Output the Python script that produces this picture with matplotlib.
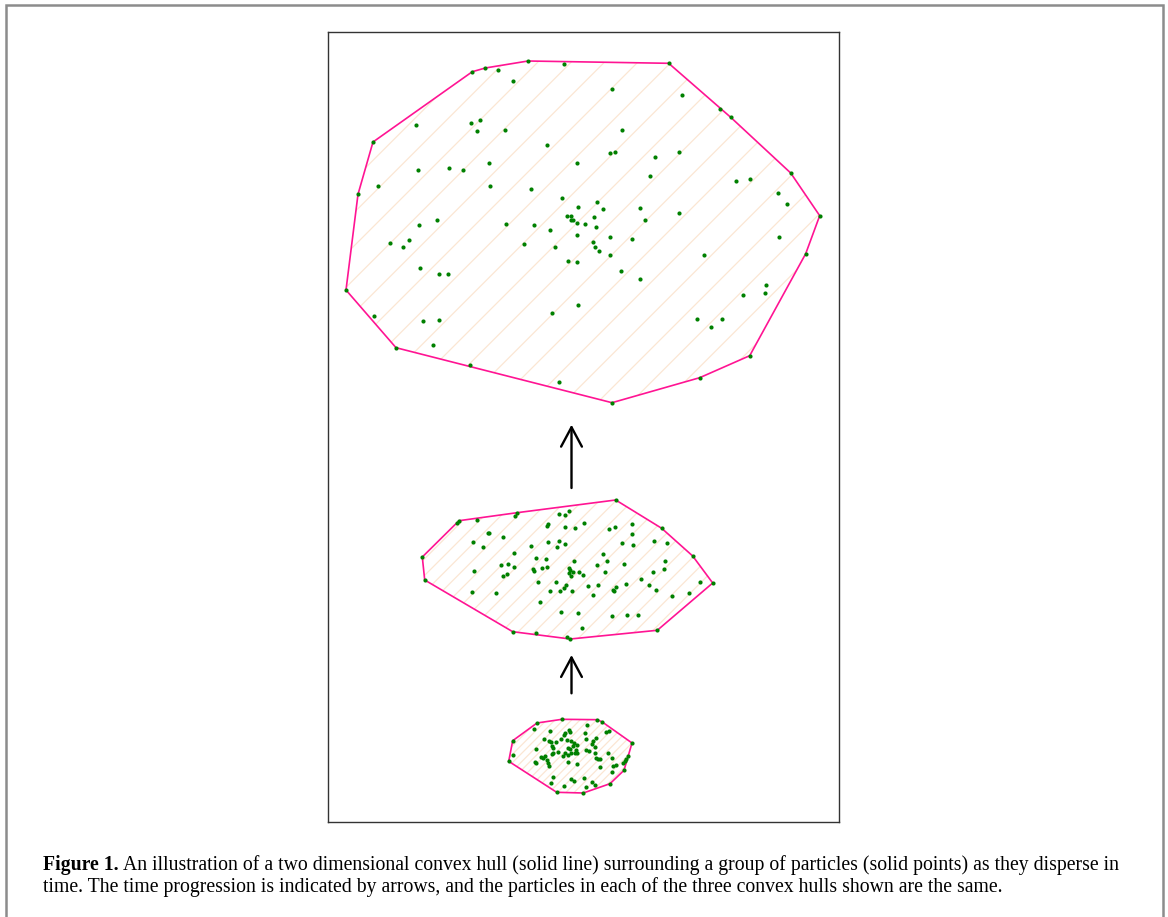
import matplotlib.pyplot as plt
from matplotlib.patches import Polygon, Rectangle

# particle positions for the three snapshots (x right, y down; same units as the axes)
big_x = [528, 564, 472.3, 485.3, 498, 512.7, 373, 416, 470.7, 480, 476.7, 505.3, 546.7,
         358, 378.3, 418.3, 448.7, 462.7, 489, 490, 531, 577, 562, 578.3, 566.7, 570.7,
         570.7, 573.3, 576.7, 585.3, 419.3, 436.7, 506, 533.7, 549.7, 576.7, 408.7,
         668.7, 612, 681.7, 719.7, 730.7, 790.7, 819.7, 622, 610, 615, 654.7, 679.3,
         649.7, 735.7, 750, 777.7, 787, 597, 602.7, 640.3, 678.7, 594, 596, 645, 610,
         632, 778.7, 390, 402.7, 524.3, 554.7, 568.3, 577.3, 420.3, 439, 448.3, 346,
         374, 422.7, 439.3, 552, 577.7, 396, 433, 470, 558.7, 592.7, 594.7, 598.7, 610,
         620.7, 639.7, 704.3, 805.7, 765.7, 765, 743, 696.7, 721.7, 711, 749.7, 699.7, 612]
big_y = [61, 63.7, 71.7, 68, 70.3, 80.7, 142, 124.7, 123.3, 120, 131.3, 130, 144.7,
         194.3, 186, 170.3, 168.3, 170.3, 163, 186.3, 188.7, 163.3, 198, 207, 216.3, 215.7,
         219.7, 219.7, 223, 224.3, 224.7, 219.7, 223.7, 225.3, 230.3, 235.3, 240,
         63.3, 89.3, 94.7, 109, 117.3, 173, 215.7, 130, 152.7, 151.7, 156.7, 151.7,
         176.3, 180.7, 179.3, 192.7, 203.7, 202, 209, 207.7, 212.7, 216.7, 227.3, 219.7, 237,
         239, 237, 243.3, 246.7, 243.7, 247.3, 260.7, 261.7, 267.7, 273.7, 273.7, 290,
         315.7, 321.3, 320, 313, 305, 347.7, 345, 365, 382, 242, 247.3, 250.7, 254.7,
         271, 279, 255, 253.7, 285, 292.7, 295.3, 319.3, 318.7, 326.7, 355.7, 377.7, 402.7]

mid_x = [615.7, 459, 456.7, 477, 517, 515.3, 559.3, 565.3, 568.7, 547.7, 546.7, 565, 575,
         583.7, 608.7, 614.7, 632, 632.3, 661.7, 488.3, 489.3, 502.7, 472.7, 483.3, 530.7,
         547.7, 558.7, 565.3, 556.7, 621.7, 633.3, 654.3, 667.3, 692.7, 422.3, 513.7, 535.7,
         545.7, 603.3, 607, 574, 501, 507.7, 513.7, 533, 534, 542, 546.7, 569.3, 570.3,
         573.3, 569.3, 571.3, 579, 583, 596.7, 605.3, 624.3, 665.3, 664, 653.3, 474.3,
         502.7, 507.3, 424.7, 537.7, 555.7, 566, 564, 560.3, 549.7, 572, 588.3, 598, 592.7,
         613, 614.3, 615.7, 626, 641, 649, 655.7, 672.3, 689, 699.7, 712.7, 471.7, 495.7,
         540, 561.3, 578.3, 612.3, 626.7, 637.7, 582, 512.7, 536, 567, 570.3, 657.3]
mid_y = [500, 520.7, 523.3, 519.7, 512.7, 516, 513.7, 514.7, 511, 523.7, 526.3, 526.7, 527.7,
         522.7, 528.7, 527, 524, 533.7, 528.3, 532.7, 533.3, 537.3, 541.7, 547, 545.7,
         542.3, 540.7, 544.3, 547.3, 543.3, 545, 540.7, 542.7, 556, 557, 553.3, 557.7,
         559, 554.3, 560.7, 561.3, 564.7, 564.3, 567, 569.3, 570.7, 568.3, 567, 567.7, 570,
         571.7, 573.3, 575.7, 571.7, 575, 565, 571.7, 563.7, 560.7, 569, 571.7, 571.3,
         575.7, 574, 580, 581.7, 582.3, 585, 588.3, 591.3, 591, 590.7, 585.7, 585, 595,
         589.7, 591, 587.3, 584, 579.3, 584.7, 590.3, 595.7, 592.7, 582, 583, 592, 592.7,
         602, 611.7, 613, 616, 614.7, 615.3, 627.7, 631.7, 633.3, 637, 639, 630.3]

small_x = [562, 597.3, 602.3, 537, 534, 587.3, 550.3, 565.3, 564, 569.3, 570, 584.7, 605.7,
           608.7, 596.3, 512.7, 544.3, 548.7, 550.7, 561, 556.3, 567.3, 570.7, 574.3, 576.7,
           573.3, 586, 593.3, 632, 552, 553.3, 592, 535.7, 557.7, 568, 570, 576, 588.7, 586,
           595.3, 552.3, 553, 565.3, 568, 563.3, 571.3, 574.7, 577.3, 608, 628.3, 595,
           512.7, 545, 541.3, 543.3, 596, 598, 600, 612.3, 626.3, 625.3, 508.7, 547.3, 548,
           568, 576.7, 534.7, 536, 623.3, 548.7, 600, 613.3, 616, 624, 611.7, 552.7, 571.3,
           574, 584.3, 551, 592.3, 595.3, 610, 564, 586, 556.7, 583.3]
small_y = [719.3, 719.7, 722, 723, 729, 724.7, 731.3, 732.7, 734.7, 729.7, 732.3, 733, 731.7,
           730.7, 737.7, 740.7, 739, 740.7, 742, 739.3, 742, 740, 741, 743, 745.3,
           746, 739.3, 741, 743, 745.7, 748.3, 744.3, 749.3, 751.7, 748.3, 749.3, 750, 750.7, 750,
           747, 754.3, 753, 753.3, 755, 756, 752.7, 753.3, 753.3, 752.7, 755.7, 752.7,
           755, 756, 757.3, 758, 757.7, 759.3, 758.7, 758, 759.3, 761.3, 761.3, 760, 762.7,
           761.7, 764, 762, 763.3, 763.3, 765.7, 767.3, 765.7, 764.7, 770.3, 772, 777, 779.3,
           780.7, 777.7, 783.3, 782, 784.7, 783.7, 786, 787.3, 792.3, 793]

# hatch density grows as the hull shrinks
groups = [(big_x, big_y, '/'), (mid_x, mid_y, '//'), (small_x, small_y, '////')]

HULL_COLOR = '#ff1493'
HATCH_COLOR = '#fbe6d3'
DOT_COLOR = '#008000'


def convex_hull(xs, ys):
    pts = sorted(set(zip(xs, ys)))

    def cross(o, a, b):
        return (a[0] - o[0]) * (b[1] - o[1]) - (a[1] - o[1]) * (b[0] - o[0])

    lower, upper = [], []
    for p in pts:
        while len(lower) >= 2 and cross(lower[-2], lower[-1], p) <= 0:
            lower.pop()
        lower.append(p)
    for p in reversed(pts):
        while len(upper) >= 2 and cross(upper[-2], upper[-1], p) <= 0:
            upper.pop()
        upper.append(p)
    return lower[:-1] + upper[:-1]


plt.rcParams['hatch.linewidth'] = 0.9

fig = plt.figure(figsize=(11.68, 9.17), dpi=100)
W, H = 1168, 917

# outer caption frame
fig.patches.append(Rectangle((6 / W, -0.05), (1163 - 6) / W, 1.05 - 5 / H,
                             transform=fig.transFigure, fill=False,
                             edgecolor='#8c8c8c', linewidth=1.8))

ax = fig.add_axes([328 / W, 1 - 822 / H, (839 - 328) / W, (822 - 31.5) / H])
ax.set_xlim(328, 839)
ax.set_ylim(822, 31.5)
ax.set_xticks([])
ax.set_yticks([])
for sp in ax.spines.values():
    sp.set_color('#333333')
    sp.set_linewidth(1.0)

hull_extent = []
for xs, ys, hatch in groups:
    hull = convex_hull(xs, ys)
    ax.add_patch(Polygon(hull, closed=True, fill=False, edgecolor=HATCH_COLOR,
                         hatch=hatch, linewidth=0, zorder=1))
    hx = [p[0] for p in hull] + [hull[0][0]]
    hy = [p[1] for p in hull] + [hull[0][1]]
    ax.plot(hx, hy, color=HULL_COLOR, lw=1.2, zorder=2)
    ax.scatter(xs, ys, s=9, color=DOT_COLOR, linewidths=0, zorder=3)
    hull_extent.append((min(ys), max(ys)))

# time arrows between consecutive hulls
ARROW_X = 571.5
gaps = [(hull_extent[1][0], hull_extent[0][1], 12, 22),
        (hull_extent[2][0], hull_extent[1][1], 26, 16)]
for lower_top, upper_bottom, pad_tail, pad_tip in gaps:
    ax.annotate('', xy=(ARROW_X, upper_bottom + pad_tip),
                xytext=(ARROW_X, lower_top - pad_tail),
                arrowprops=dict(arrowstyle='->,head_length=1.4,head_width=0.75',
                                color='black', lw=1.7, shrinkA=0, shrinkB=0))

# caption
cap_font = dict(family='Liberation Serif', size=14.2, va='baseline')
line1 = ('An illustration of a two dimensional convex hull (solid line) surrounding a group '
         'of particles (solid points) as they disperse in')
line2 = ('time. The time progression is indicated by arrows, and the particles in each of '
         'the three convex hulls shown are the same.')
bold = fig.text(43 / W, 1 - 870 / H, 'Figure 1.', weight='bold', **cap_font)
fig.canvas.draw()
bb = bold.get_window_extent(fig.canvas.get_renderer())
fig.text((bb.x1 + 4) / W, 1 - 870 / H, line1, **cap_font)
fig.text(43 / W, 1 - 892 / H, line2, **cap_font)

fig.savefig('out.png', dpi=100)
